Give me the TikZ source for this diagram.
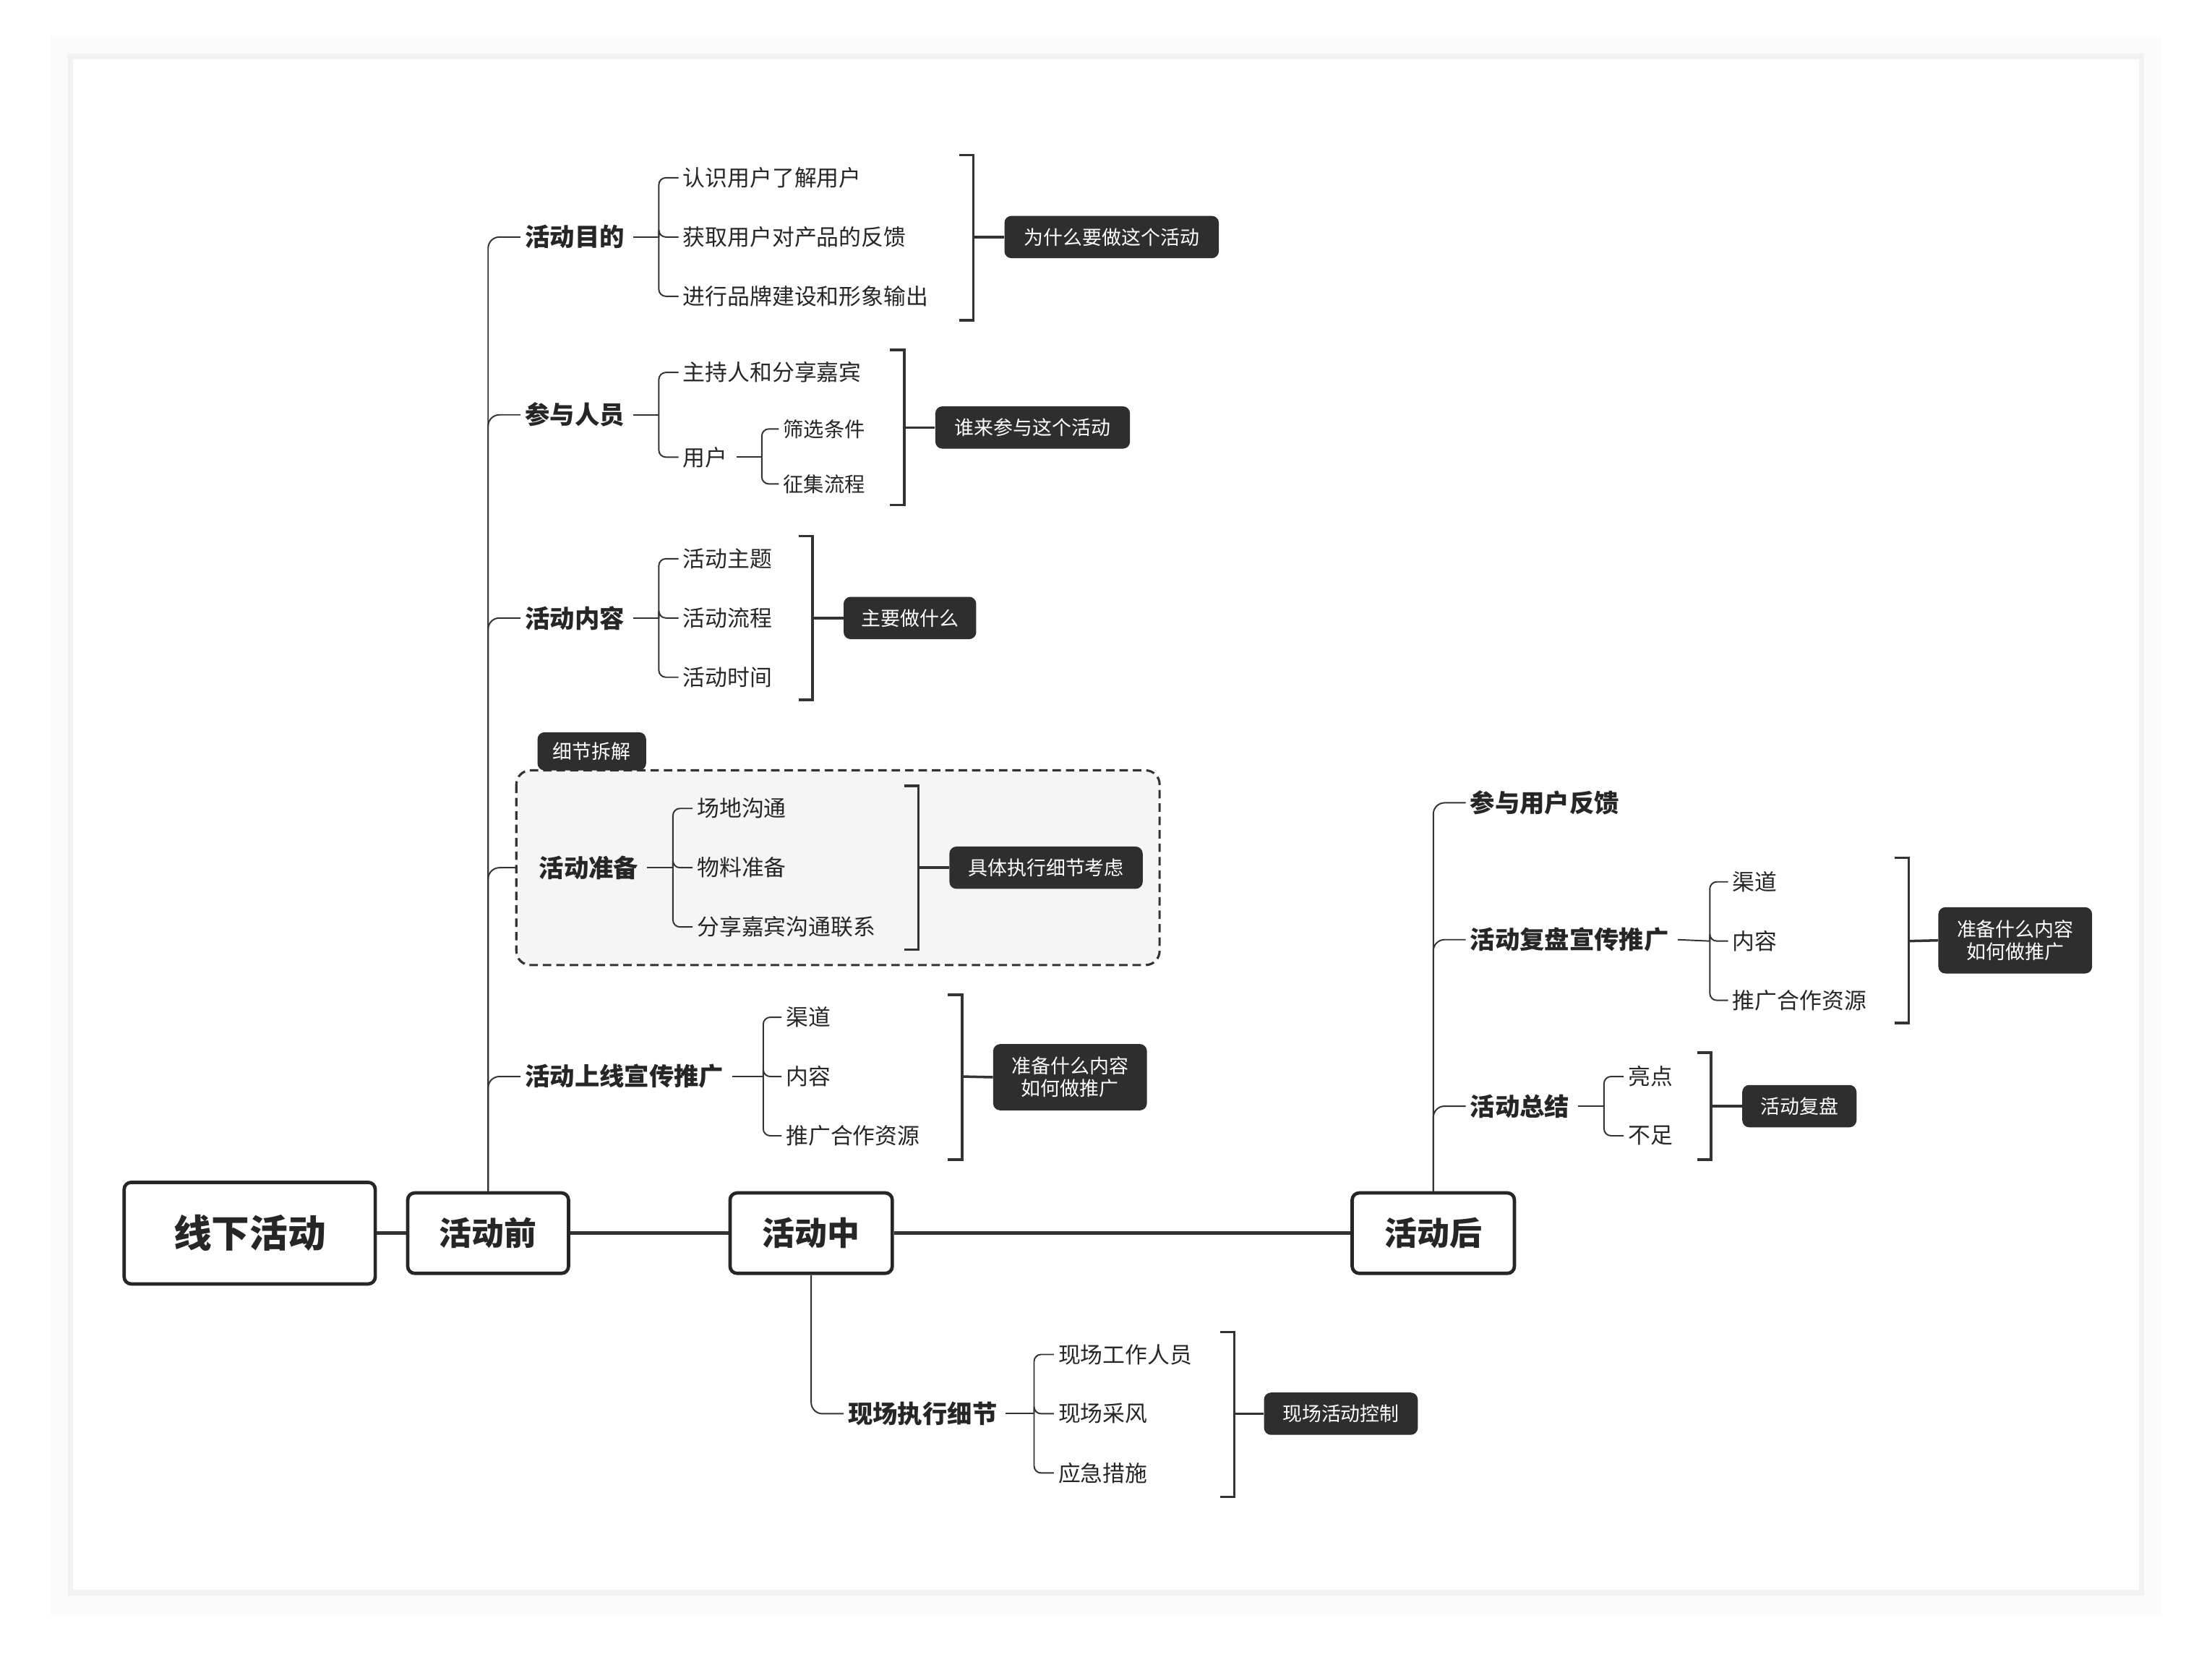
\documentclass[tikz,border=0pt]{standalone}
\usepackage{fontspec}
\setmainfont{Noto Sans CJK SC}
\begin{document}
\begin{tikzpicture}[x=1pt,y=-1pt,
  line/.style={draw=black!80,line width=1pt},
  main/.style={draw=black!80,line width=2.6pt,rounded corners=6},
  brk/.style={draw=black!80,line width=1.8pt},
  topbox/.style={draw=black!85,line width=2.4pt,rounded corners=5,fill=white,font=\bfseries,text=black!85},
  br/.style={anchor=west,inner xsep=3pt,inner ysep=1pt,font=\fontsize{17.6}{20}\selectfont\bfseries,text=black!85},
  it/.style={anchor=west,inner xsep=3pt,inner ysep=1pt,font=\fontsize{15.8}{18}\selectfont,text=black!85},
  tag/.style={fill=black!82,text=white,rounded corners=5,font=\fontsize{13.8}{16}\selectfont,inner sep=0pt,align=center}
]
\useasboundingbox (0,0) rectangle (1568,1189);
\fill[black!3] (42,32) rectangle (1526,1139);
\fill[black!1.5] (36,26) rectangle (1532,1145);
\fill[black!5] (48,38) rectangle (1520,1131);
\fill[white] (52,42) rectangle (1516,1127);

% top level
\node[topbox,minimum width=178,minimum height=72,font=\fontsize{27}{30}\selectfont\bfseries] (root) at (177,874) {线下活动};
\node[topbox,minimum width=114,minimum height=57,font=\fontsize{23}{26}\selectfont\bfseries] (pre) at (346,874) {活动前};
\node[topbox,minimum width=115,minimum height=57,font=\fontsize{23}{26}\selectfont\bfseries] (mid) at (575,874) {活动中};
\node[topbox,minimum width=115,minimum height=57,font=\fontsize{23}{26}\selectfont\bfseries] (post) at (1016,874) {活动后};
\draw[main,rounded corners=0] (root) -- (pre);
\draw[main,rounded corners=0] (pre) -- (mid);
\draw[main,rounded corners=0] (mid) -- (post);

% dashed box
\draw[dash pattern=on 6pt off 3.5pt,line width=1.6pt,draw=black!80,fill=black!4,rounded corners=10] (366,546) rectangle (822,684);
\node[tag,minimum width=77,minimum height=27] (xj) at (419.5,532.5) {细节拆解};

% pre branches
\node[br] (a1) at (369,168) {活动目的};
\node[br] (a2) at (369,294) {参与人员};
\node[br] (a3) at (369,438) {活动内容};
\node[br] (a4) at (379,615) {活动准备};
\node[br] (a5) at (369,763) {活动上线宣传推广};
\foreach \n in {a1,a2,a3,a5} \draw[line,rounded corners=8] (pre.north) |- (\n.west);
\draw[line,rounded corners=8] (pre.north) |- (366,615);

% a1
\node[it] (a11) at (481,126) {认识用户了解用户};
\node[it] (a12) at (481,168) {获取用户对产品的反馈};
\node[it] (a13) at (481,210) {进行品牌建设和形象输出};
\draw[line] (a1.east)++(3,0) -- (467,168);
\foreach \n in {a11,a12,a13} \draw[line,rounded corners=5] (467,168) |- (\n.west);
\draw[brk] (680,110) -- (690,110) -- (690,227) -- (680,227);
\node[tag,minimum width=152,minimum height=30] (t1) at (788,168) {为什么要做这个活动};
\draw[brk] (690,168) -- (t1.west);

% a2
\node[it] (a21) at (481,264) {主持人和分享嘉宾};
\node[it] (a22) at (481,324) {用户};
\node[it,font=\fontsize{14.5}{17}\selectfont] (a221) at (552,304) {筛选条件};
\node[it,font=\fontsize{14.5}{17}\selectfont] (a222) at (552,343) {征集流程};
\draw[line] (a2.east)++(3,0) -- (467,294);
\foreach \n in {a21,a22} \draw[line,rounded corners=5] (467,294) |- (\n.west);
\draw[line] (a22.east)++(3,0) -- (540,324);
\foreach \n in {a221,a222} \draw[line,rounded corners=5] (540,324) |- (\n.west);
\draw[brk] (631,248) -- (641,248) -- (641,358) -- (631,358);
\node[tag,minimum width=138,minimum height=30] (t2) at (732,303) {谁来参与这个活动};
\draw[brk] (641,303) -- (t2.west);

% a3
\node[it] (a31) at (481,396) {活动主题};
\node[it] (a32) at (481,438) {活动流程};
\node[it] (a33) at (481,480) {活动时间};
\draw[line] (a3.east)++(3,0) -- (467,438);
\foreach \n in {a31,a32,a33} \draw[line,rounded corners=5] (467,438) |- (\n.west);
\draw[brk] (566,380) -- (576,380) -- (576,496) -- (566,496);
\node[tag,minimum width=94,minimum height=30] (t3) at (645,438) {主要做什么};
\draw[brk] (576,438) -- (t3.west);

% a4
\node[it] (a41) at (491,573) {场地沟通};
\node[it] (a42) at (491,615) {物料准备};
\node[it] (a43) at (491,657) {分享嘉宾沟通联系};
\draw[line] (a4.east)++(3,0) -- (477,615);
\foreach \n in {a41,a42,a43} \draw[line,rounded corners=5] (477,615) |- (\n.west);
\draw[brk] (641,557) -- (651,557) -- (651,673) -- (641,673);
\node[tag,minimum width=137,minimum height=30] (t4) at (741.5,615) {具体执行细节考虑};
\draw[brk] (651,615) -- (t4.west);

% a5
\node[it] (a51) at (554,721) {渠道};
\node[it] (a52) at (554,763) {内容};
\node[it] (a53) at (554,805) {推广合作资源};
\draw[line] (a5.east)++(3,0) -- (541,763);
\foreach \n in {a51,a52,a53} \draw[line,rounded corners=5] (541,763) |- (\n.west);
\draw[brk] (672,705) -- (682,705) -- (682,822) -- (672,822);
\node[tag,minimum width=109,minimum height=47] (t5) at (758.5,763.5) {准备什么内容\\如何做推广};
\draw[brk] (682,763) -- (t5.west);

% mid
\node[br] (b1) at (598,1002) {现场执行细节};
\draw[line,rounded corners=8] (mid.south) |- (b1.west);
\node[it] (b11) at (747,960) {现场工作人员};
\node[it] (b12) at (747,1002) {现场采风};
\node[it] (b13) at (747,1044) {应急措施};
\draw[line] (b1.east)++(3,0) -- (733,1002);
\foreach \n in {b11,b12,b13} \draw[line,rounded corners=5] (733,1002) |- (\n.west);
\draw[brk] (865,944) -- (875,944) -- (875,1061) -- (865,1061);
\node[tag,minimum width=109,minimum height=30] (t6) at (950.5,1002) {现场活动控制};
\draw[brk] (875,1002) -- (t6.west);

% post
\node[br] (c1) at (1039,569) {参与用户反馈};
\node[br] (c2) at (1039,666) {活动复盘宣传推广};
\node[br] (c3) at (1039,784) {活动总结};
\foreach \n in {c1,c2,c3} \draw[line,rounded corners=8] (post.north) |- (\n.west);

\node[it] (c21) at (1225,625) {渠道};
\node[it] (c22) at (1225,667) {内容};
\node[it] (c23) at (1225,709) {推广合作资源};
\draw[line] (c2.east)++(3,0) -- (1212,667);
\foreach \n in {c21,c22,c23} \draw[line,rounded corners=5] (1212,667) |- (\n.west);
\draw[brk] (1343,608) -- (1353,608) -- (1353,725) -- (1343,725);
\node[tag,minimum width=109,minimum height=47] (t7) at (1428.5,666.5) {准备什么内容\\如何做推广};
\draw[brk] (1353,667) -- (t7.west);

\node[it] (c31) at (1151,763) {亮点};
\node[it] (c32) at (1151,805) {不足};
\draw[line] (c3.east)++(3,0) -- (1137,784);
\foreach \n in {c31,c32} \draw[line,rounded corners=5] (1137,784) |- (\n.west);
\draw[brk] (1203,746) -- (1213,746) -- (1213,822) -- (1203,822);
\node[tag,minimum width=81,minimum height=30] (t8) at (1275.5,784) {活动复盘};
\draw[brk] (1213,784) -- (t8.west);
\end{tikzpicture}
\end{document}
